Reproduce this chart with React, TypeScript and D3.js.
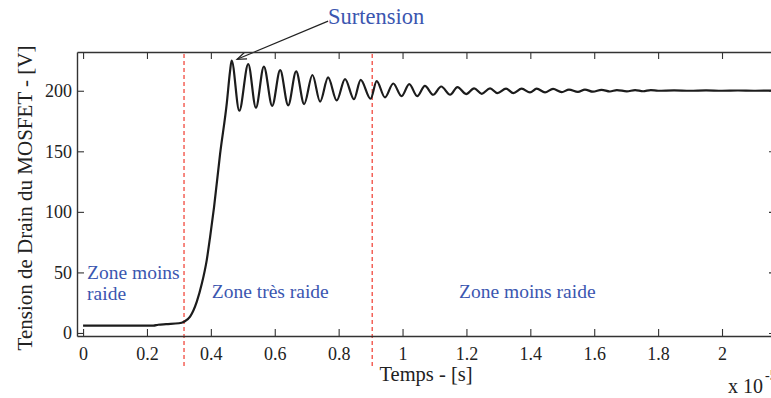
import { useEffect, useRef } from 'react';
import * as d3 from 'd3';

// temps (x 10^-5 s) et tension de drain (V)
const timeValues = [
  0, 0.1, 0.22, 0.235, 0.26, 0.3, 0.316, 0.335, 0.356, 0.372, 0.387, 0.398,
  0.41, 0.429, 0.45, 0.46, 0.465, 0.489, 0.517, 0.541, 0.566, 0.592, 0.617,
  0.642, 0.667, 0.692, 0.718, 0.742, 0.767, 0.794, 0.82, 0.848, 0.869, 0.9,
  0.919, 0.945, 0.971, 0.997, 1.021, 1.046, 1.07, 1.096, 1.121, 1.149, 1.172,
  1.199, 1.224, 1.248, 1.274, 1.297, 1.324, 1.347, 1.373, 1.399, 1.42, 1.446,
  1.471, 1.498, 1.521, 1.549, 1.571, 1.596, 1.623, 1.649, 1.671, 1.702, 1.728,
  1.753, 1.777, 1.8, 1.85, 1.9, 1.95, 2.0, 2.05, 2.1, 2.17,
];
const voltageValues = [
  6, 6, 6, 6.8, 7.3, 8, 9.3, 13.5, 25.9, 41, 60, 80, 104, 148, 190, 216, 225,
  183.5, 222, 186, 220, 187.5, 217, 188, 216, 189, 213, 191, 211, 192, 209.6,
  193, 209, 193.4, 208, 194.5, 206, 195.5, 205.5, 195.5, 204, 196.7, 203.5,
  196.7, 203, 197.3, 202, 197.5, 202, 198, 201.7, 198, 201.7, 198.6, 201.7,
  198.7, 201.5, 198.8, 201, 199, 201, 199.2, 200.8, 199.4, 200.6, 199.5, 200.5,
  199.6, 200.5, 200, 200.3, 200, 200.3, 200, 200.2, 200, 200.1,
];

const xTickValues = [0, 0.2, 0.4, 0.6, 0.8, 1, 1.2, 1.4, 1.6, 1.8, 2];
const yTickValues = [0, 50, 100, 150, 200];
const zoneBoundaries = [0.316, 0.905];

const W = 771;
const H = 398;
const FONT = '"Liberation Serif", "Times New Roman", serif';
const BLUE = '#3b56b0';

const App = () => {
  const svgRef = useRef<SVGSVGElement>(null);

  const x = d3.scaleLinear().domain([-0.019, 2.169]).range([77, 776]);
  const y = d3.scaleLinear().domain([-2.5, 232]).range([336, 52]);

  const points = timeValues.map((t, i) => [t, voltageValues[i]] as [number, number]);
  const line = d3
    .line<[number, number]>()
    .x((d) => x(d[0]))
    .y((d) => y(d[1]))
    .curve(d3.curveMonotoneX);

  useEffect(() => {
    if (!svgRef.current) return;
    const svg = d3.select(svgRef.current);
    svg.selectAll('.axis').remove();

    const [x0, x1] = x.range();
    const [yb, yt] = y.range();

    const style = (g: d3.Selection<SVGGElement, unknown, null, undefined>) => {
      g.select('.domain').attr('stroke', '#333').attr('stroke-width', 1.4);
      g.selectAll('.tick line').attr('stroke', '#333').attr('stroke-width', 1.1);
      g.selectAll('.tick text')
        .attr('fill', '#222')
        .style('font-family', FONT)
        .style('font-size', '18px');
    };

    svg
      .append('g')
      .attr('class', 'axis')
      .attr('transform', `translate(0,${yb})`)
      .call(
        d3
          .axisBottom(x)
          .tickValues(xTickValues)
          .tickFormat((d) => String(d))
          .tickSizeInner(-7)
          .tickSizeOuter(0)
          .tickPadding(11),
      )
      .call(style);

    svg
      .append('g')
      .attr('class', 'axis')
      .attr('transform', `translate(0,${yt})`)
      .call(
        d3
          .axisTop(x)
          .tickValues(xTickValues)
          .tickFormat(() => '')
          .tickSizeInner(-7)
          .tickSizeOuter(0),
      )
      .call(style);

    svg
      .append('g')
      .attr('class', 'axis')
      .attr('transform', `translate(${x0},0)`)
      .call(
        d3
          .axisLeft(y)
          .tickValues(yTickValues)
          .tickFormat((d) => String(d))
          .tickSizeInner(-7)
          .tickSizeOuter(0)
          .tickPadding(5),
      )
      .call(style);

    svg
      .append('g')
      .attr('class', 'axis')
      .attr('transform', `translate(${x1},0)`)
      .call(
        d3
          .axisRight(y)
          .tickValues(yTickValues)
          .tickFormat(() => '')
          .tickSizeInner(-7)
          .tickSizeOuter(0),
      )
      .call(style);
  }, []);

  // flèche "Surtension"
  const tipX = x(0.482);
  const tipY = y(226);
  const tailX = x(0.767);
  const tailY = y(257.5);
  const ang = Math.atan2(tailY - tipY, tailX - tipX);
  const head = (da: number) =>
    `${tipX + 10 * Math.cos(ang + da)},${tipY + 10 * Math.sin(ang + da)}`;

  return (
    <svg
      ref={svgRef}
      width={W}
      height={H}
      style={{ position: 'absolute', left: 0, top: 0, background: '#fff' }}
    >
      {zoneBoundaries.map((b) => (
        <line
          key={b}
          x1={x(b)}
          x2={x(b)}
          y1={y.range()[1] + 2}
          y2={367}
          stroke="#f03a2e"
          strokeWidth={1.2}
          strokeDasharray="4,3"
        />
      ))}
      <path d={line(points) ?? ''} fill="none" stroke="#1c1c1c" strokeWidth={2.2} />

      <line x1={tailX} y1={tailY} x2={tipX} y2={tipY} stroke="#222" strokeWidth={1.2} />
      <polyline
        points={`${head(0.35)} ${tipX},${tipY} ${head(-0.35)}`}
        fill="none"
        stroke="#222"
        strokeWidth={1.2}
      />

      <g fontFamily={FONT} fill={BLUE}>
        <text x={328} y={24} fontSize={22.5}>
          Surtension
        </text>
        <text x={x(0.0125)} y={y(44.3)} fontSize={19.5}>
          Zone moins
        </text>
        <text x={x(0.0125)} y={y(27.3)} fontSize={19.5}>
          raide
        </text>
        <text x={x(0.403)} y={y(28.7)} fontSize={19.5}>
          Zone très raide
        </text>
        <text x={x(1.177)} y={y(29.2)} fontSize={19.5}>
          Zone moins raide
        </text>
      </g>

      <g fontFamily={FONT} fill="#222">
        <text x={426} y={381} fontSize={20.5} textAnchor="middle">
          Temps - [s]
        </text>
        <text transform="translate(32,198) rotate(-90)" fontSize={21} textAnchor="middle">
          Tension de Drain du MOSFET - [V]
        </text>
        <text x={728} y={393} fontSize={20}>
          x 10
        </text>
        <text x={765} y={380} fontSize={14}>
          -5
        </text>
      </g>
    </svg>
  );
};

export default App;
